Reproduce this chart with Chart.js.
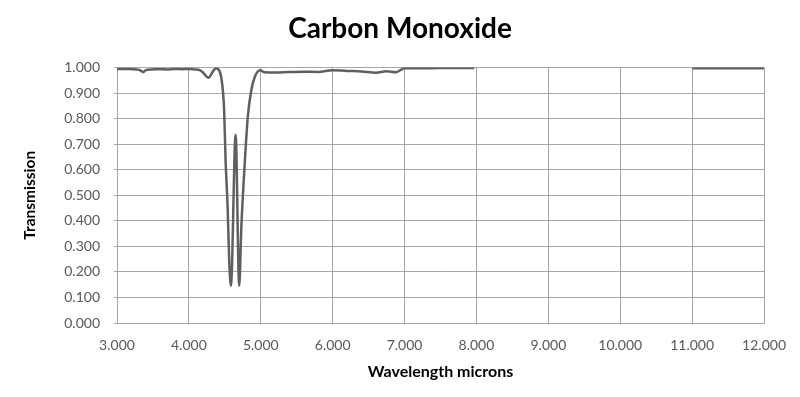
<!DOCTYPE html>
<html>
<head>
<meta charset="utf-8">
<script src="https://cdn.jsdelivr.net/npm/chart.js@4/dist/chart.umd.min.js"></script>
<style>
  html, body { margin: 0; padding: 0; background: #fff; }
  #wrap { width: 800px; height: 397px; }
</style>
</head>
<body>
<div id="wrap"><canvas id="coChart" width="800" height="397"></canvas></div>
<script>
// wavelength (microns) and transmission
const wavelength = [
  3.00, 3.10, 3.20, 3.30, 3.33, 3.365, 3.40, 3.50, 3.60, 3.70, 3.80, 3.90,
  4.00, 4.08, 4.15, 4.20, 4.27, 4.34, 4.375, 4.41, 4.455, 4.49, 4.51, 4.54,
  4.56, 4.585, 4.65, 4.70, 4.73, 4.78, 4.82, 4.87, 4.92, 4.99, 5.05,
  5.20, 5.40, 5.60, 5.80, 6.00, 6.20, 6.40, 6.60, 6.75, 6.88, 7.00, 7.20,
  7.50, 7.97, 9.50, 11.00, 11.50, 12.00
];
const transmission = [
  0.995, 0.995, 0.994, 0.992, 0.988, 0.982, 0.990, 0.993, 0.994, 0.993, 0.995, 0.994,
  0.995, 0.993, 0.990, 0.980, 0.960, 0.987, 0.997, 0.993, 0.953, 0.835, 0.640, 0.444,
  0.250, 0.146, 0.737, 0.146, 0.380, 0.640, 0.810, 0.914, 0.966, 0.990, 0.982,
  0.981, 0.983, 0.984, 0.983, 0.990, 0.987, 0.985, 0.980, 0.986, 0.982, 0.997, 0.997,
  0.998, 0.998, null, 0.997, 0.997, 0.997
];
const xTicks = [3, 4, 5, 6, 7, 8, 9, 10, 11, 12];
const yTicks = [0, 0.1, 0.2, 0.3, 0.4, 0.5, 0.6, 0.7, 0.8, 0.9, 1.0];

const gridColor = "#a6a6a6";
const textColor = "#595959";

new Chart(document.getElementById("coChart"), {
  type: "line",
  data: {
    datasets: [
      {
        data: wavelength.map((w, i) => ({ x: w, y: transmission[i] })),
        borderColor: "#5f5f5f",
        borderWidth: 2.5,
        pointRadius: 0,
        cubicInterpolationMode: "monotone",
        spanGaps: false,
        fill: false,
      },
    ],
  },
  options: {
    responsive: false,
    animation: false,
    layout: { padding: 0 },
    scales: {
      x: {
        type: "linear",
        min: 3,
        max: 12,
        afterBuildTicks: (s) => { s.ticks = xTicks.map(v => ({ value: v })); },
        afterFit: (s) => { s.height = 74; },
        ticks: {
          color: textColor,
          font: { family: "Lato", size: 14 },
          padding: 14,
          maxRotation: 0,
          callback: (v) => Number(v).toFixed(3),
        },
        grid: { color: gridColor, drawTicks: false },
        border: { color: gridColor },
        title: {
          display: true,
          text: "Wavelength microns",
          color: "#000",
          font: { family: "Lato", size: 16, weight: "bold" },
          padding: { top: 0, bottom: 16 },
        },
      },
      y: {
        min: 0,
        max: 1,
        afterBuildTicks: (s) => { s.ticks = yTicks.map(v => ({ value: v })); },
        afterFit: (s) => { s.width = 117; },
        ticks: {
          color: textColor,
          font: { family: "Lato", size: 14 },
          padding: 14,
          callback: (v) => Number(v).toFixed(3),
        },
        grid: { color: gridColor, tickLength: 3 },
        border: { color: gridColor },
        title: {
          display: true,
          text: "Transmission",
          color: "#000",
          font: { family: "Lato", size: 15.5, weight: "bold" },
          padding: { top: 21, bottom: 0 },
        },
      },
      // empty right-hand axis, only to keep the plot's right edge at 12.000
      spacer: {
        type: "linear",
        position: "right",
        display: true,
        afterFit: (s) => { s.width = 35; },
        ticks: { display: false },
        grid: { display: false, drawTicks: false },
        border: { display: false },
      },
    },
    plugins: {
      title: {
        display: true,
        text: "Carbon Monoxide",
        color: "#000",
        font: { family: "Lato", size: 28, weight: "bold" },
        padding: { top: 12, bottom: 22 },
      },
      legend: { display: false },
      tooltip: { enabled: false },
    },
  },
});
</script>
</body>
</html>
